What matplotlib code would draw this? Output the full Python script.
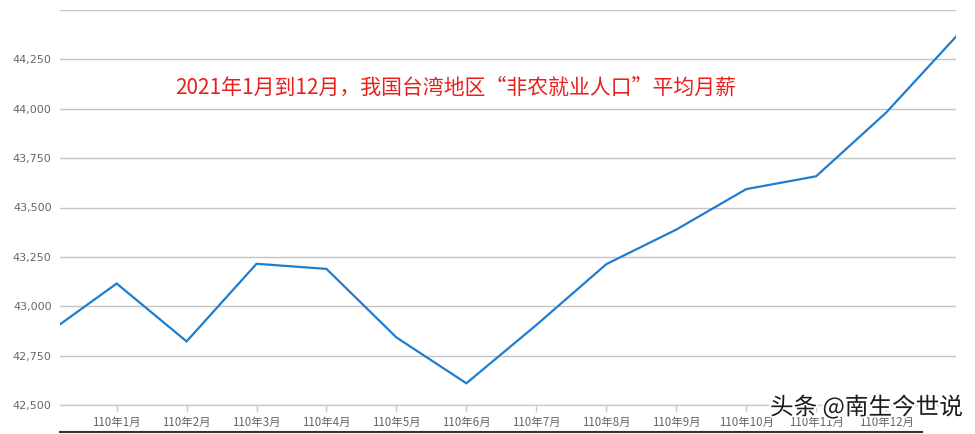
import numpy as np
import matplotlib
matplotlib.use("Agg")
import matplotlib.pyplot as plt
import matplotlib.patheffects as pe
from matplotlib.lines import Line2D
from matplotlib.ticker import FuncFormatter

plt.rcParams['font.family'] = ['Noto Sans CJK SC', 'DejaVu Sans']

# 110年 = 2021, monthly average wage (non-farm employees)
months = ["110年1月", "110年2月", "110年3月", "110年4月", "110年5月", "110年6月",
          "110年7月", "110年8月", "110年9月", "110年10月", "110年11月", "110年12月"]
wages = [43115, 42822, 43215, 43189, 42842, 42610,
         42905, 43213, 43388, 43593, 43658, 43980]
# neighbouring points cut off by the chart edges
prev_wage = 42860   # 109年12月
next_wage = 44365   # 111年1月

yticks = [42500, 42750, 43000, 43250, 43500, 43750, 44000, 44250, 44500]

title = "2021年1月到12月，我国台湾地区“非农就业人口”平均月薪"
watermark = "头条 @南生今世说"

fig = plt.figure(figsize=(9.75, 4.34), dpi=100)
ax = fig.add_axes([60 / 975, 29 / 434, 896 / 975, 395 / 434])

x = np.arange(-1, len(months) + 1)
y = [prev_wage] + wages + [next_wage]
ax.plot(x, y, color="#1f7dd0", lw=1.6, solid_joinstyle="miter", zorder=3)

ax.set_xlim(-0.81, 12.0)
ax.set_ylim(42500, 44500)
ax.set_yticks(yticks)
ax.yaxis.set_major_formatter(FuncFormatter(lambda v, p: "" if v >= 44500 else f"{int(v):,}"))
ax.set_xticks(np.arange(len(months)))
ax.set_xticklabels(months)

ax.grid(axis="y", color="#c4c4c4", lw=1)
ax.set_axisbelow(True)
for s in ("top", "right", "left"):
    ax.spines[s].set_visible(False)
ax.spines["bottom"].set_color("#c0d0e0")
ax.spines["bottom"].set_linewidth(1)

ax.tick_params(axis="y", length=0, pad=6, labelsize=8, labelcolor="#666666")
ax.tick_params(axis="x", length=5, width=1, color="#c0d0e0", pad=3,
               labelsize=8.3, labelcolor="#666666")
for lab in ax.get_yticklabels():
    lab.set_family("DejaVu Sans")

fig.text(175 / 975, 1 - 88 / 434, title, color="#e8201c", fontsize=15,
         ha="left", va="center")

# watermark sits on top of the last tick labels, as in the screenshot
txt = fig.text(963 / 975, 1 - 407 / 434, watermark, color="#1a1a1a", fontsize=17,
               ha="right", va="center", zorder=10)
txt.set_path_effects([pe.withStroke(linewidth=3, foreground="white")])

# dark bar along the bottom edge of the screenshot
fig.add_artist(Line2D([60 / 975, 922 / 975], [1 - 432 / 434, 1 - 432 / 434],
                      transform=fig.transFigure, color="#333333", lw=1.5))

fig.savefig("out.png", dpi=100)
